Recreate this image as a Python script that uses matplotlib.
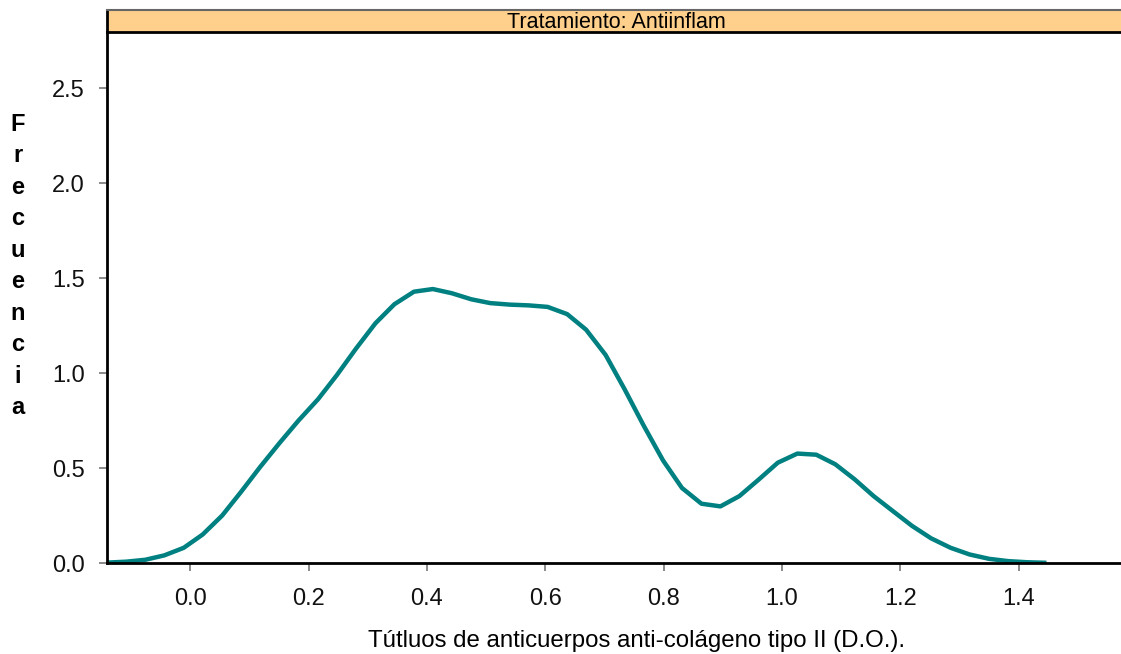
import matplotlib
matplotlib.use('Agg')
from matplotlib import pyplot as plt
from matplotlib.patches import Rectangle

# density curve (KDE grid, 50 points)
x_vals = [-0.141, -0.108, -0.076, -0.044, -0.011, 0.021, 0.054, 0.086, 0.118, 0.151,
          0.183, 0.216, 0.248, 0.280, 0.313, 0.345, 0.378, 0.410, 0.442, 0.475,
          0.507, 0.540, 0.572, 0.604, 0.637, 0.669, 0.702, 0.734, 0.766, 0.799,
          0.831, 0.864, 0.896, 0.928, 0.961, 0.993, 1.026, 1.058, 1.090, 1.123,
          1.155, 1.188, 1.220, 1.252, 1.285, 1.317, 1.350, 1.382, 1.414, 1.447]
dens = [0.002, 0.007, 0.017, 0.040, 0.080, 0.150, 0.250, 0.375, 0.505, 0.632,
        0.750, 0.862, 0.990, 1.128, 1.262, 1.362, 1.428, 1.442, 1.420, 1.388,
        1.368, 1.360, 1.356, 1.348, 1.310, 1.228, 1.095, 0.915, 0.725, 0.540,
        0.395, 0.312, 0.298, 0.352, 0.440, 0.528, 0.576, 0.570, 0.520, 0.440,
        0.352, 0.272, 0.195, 0.130, 0.080, 0.045, 0.022, 0.010, 0.004, 0.001]

x_ticks = [0.0, 0.2, 0.4, 0.6, 0.8, 1.0, 1.2, 1.4]
y_ticks = [0.0, 0.5, 1.0, 1.5, 2.0, 2.5]
strip_label = 'Tratamiento: Antiinflam'
x_label = 'Tútluos de anticuerpos anti-colágeno tipo II (D.O.).'
y_label = 'Frecuencia'

plt.rcParams['font.family'] = ['Liberation Sans', 'DejaVu Sans']

W, H = 1121, 654
fig = plt.figure(figsize=(W / 100, H / 100), dpi=100)
ax = fig.add_axes([107 / W, 1 - 563 / H, 1 - 107 / W, (563 - 32) / H])

ax.plot(x_vals, dens, color='#008080', lw=3.2, solid_capstyle='butt')
ax.set_xlim(-0.1407, 1.573)
ax.set_ylim(0, 2.795)

for s in ['top', 'right']:
    ax.spines[s].set_visible(False)
for s in ['left', 'bottom']:
    ax.spines[s].set_linewidth(2)
    ax.spines[s].set_color('black')

ax.set_xticks(x_ticks)
ax.set_xticklabels(['%.1f' % v for v in x_ticks])
ax.set_yticks(y_ticks)
ax.set_yticklabels(['%.1f' % v for v in y_ticks])
ax.tick_params(axis='both', direction='out', length=6, width=1.2, color='#777777',
               labelsize=17, labelcolor='#111111')
ax.tick_params(axis='x', pad=12)
ax.tick_params(axis='y', pad=10)

# strip on top
sax = fig.add_axes([107 / W, 1 - 32 / H, 1 - 107 / W, 22 / H])
sax.add_patch(Rectangle((0, 0), 1, 1, transform=sax.transAxes, facecolor='#ffd08c',
                        edgecolor='none'))
sax.set_xlim(0, 1)
sax.set_ylim(0, 1)
sax.set_xticks([])
sax.set_yticks([])
sax.spines['top'].set_color('#666666')
sax.spines['top'].set_linewidth(1.5)
sax.spines['bottom'].set_linewidth(2)
sax.spines['left'].set_linewidth(2)
sax.spines['right'].set_visible(False)
sax.text(509 / (W - 107), 0.42, strip_label, ha='center', va='center', fontsize=15.5)

# axis labels
fig.text(636 / W, 1 - 641 / H, x_label, ha='center', va='center', fontsize=17.3)
fig.text(18 / W, 1 - 266 / H, '\n'.join(y_label), ha='center', va='center',
         fontsize=17, fontweight='bold', linespacing=1.47)

fig.savefig('out.png', dpi=100)
